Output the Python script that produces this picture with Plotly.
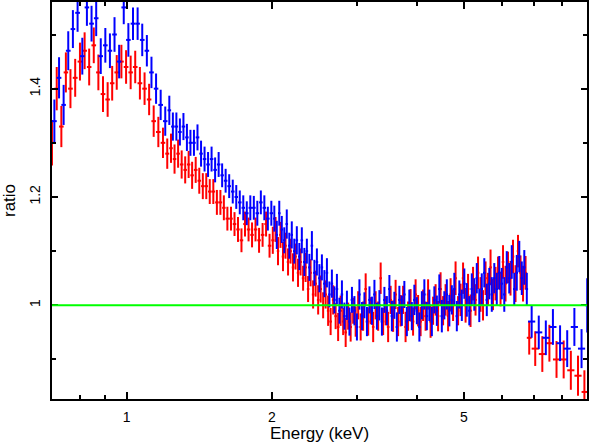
import math

import numpy as np
import plotly.graph_objects as go

# energy bin edges (keV), group 2 (blue)
BLUE_EDGES = [
    0.700, 0.716, 0.732, 0.748, 0.765, 0.782, 0.800, 0.818, 0.836, 0.855,
    0.874, 0.893, 0.913, 0.933, 0.954, 0.975, 0.997, 1.019, 1.042, 1.065,
    1.089, 1.113, 1.138, 1.163, 1.189, 1.215, 1.236, 1.257, 1.278, 1.300,
    1.322, 1.344, 1.367, 1.390, 1.414, 1.438, 1.462, 1.487, 1.512, 1.538,
    1.564, 1.590, 1.617, 1.645, 1.673, 1.701, 1.730, 1.759, 1.789, 1.819,
    1.850, 1.881, 1.913, 1.945, 1.978, 2.011, 2.035, 2.059, 2.084, 2.109,
    2.134, 2.160, 2.186, 2.212, 2.239, 2.266, 2.293, 2.321, 2.349, 2.377,
    2.406, 2.435, 2.464, 2.494, 2.524, 2.554, 2.585, 2.616, 2.647, 2.679,
    2.711, 2.744, 2.777, 2.810, 2.844, 2.878, 2.913, 2.948, 2.983, 3.019,
    3.055, 3.092, 3.129, 3.167, 3.205, 3.243, 3.282, 3.321, 3.361, 3.401,
    3.442, 3.483, 3.525, 3.567, 3.610, 3.653, 3.697, 3.741, 3.786, 3.831,
    3.877, 3.924, 3.971, 4.019, 4.067, 4.116, 4.165, 4.215, 4.266, 4.317,
    4.369, 4.421, 4.474, 4.528, 4.582, 4.637, 4.693, 4.749, 4.806, 4.864,
    4.922, 4.981, 5.041, 5.101, 5.162, 5.224, 5.287, 5.350, 5.414, 5.479,
    5.545, 5.612, 5.679, 5.747, 5.816, 5.886, 5.957, 6.028, 6.100, 6.173,
    6.247, 6.322, 6.398, 6.475, 6.553, 6.632, 6.712, 6.793, 7.030, 7.270,
    7.520, 7.780, 8.050, 8.330, 8.620, 8.920, 9.100,
]

# energy bin edges (keV), group 1 (red) - staggered against group 2
RED_EDGES = [
    0.692, 0.708, 0.724, 0.740, 0.756, 0.773, 0.791, 0.809, 0.827, 0.845,
    0.864, 0.883, 0.903, 0.923, 0.943, 0.964, 0.986, 1.008, 1.030, 1.053,
    1.077, 1.101, 1.125, 1.150, 1.176, 1.202, 1.225, 1.246, 1.267, 1.289,
    1.311, 1.333, 1.355, 1.378, 1.402, 1.426, 1.450, 1.474, 1.499, 1.525,
    1.551, 1.577, 1.603, 1.631, 1.659, 1.687, 1.715, 1.744, 1.774, 1.804,
    1.834, 1.865, 1.897, 1.929, 1.961, 1.994, 2.023, 2.047, 2.071, 2.096,
    2.121, 2.147, 2.173, 2.199, 2.225, 2.252, 2.279, 2.307, 2.335, 2.363,
    2.391, 2.420, 2.449, 2.479, 2.509, 2.539, 2.569, 2.600, 2.631, 2.663,
    2.695, 2.727, 2.760, 2.793, 2.827, 2.861, 2.895, 2.930, 2.965, 3.001,
    3.037, 3.073, 3.110, 3.148, 3.186, 3.224, 3.262, 3.301, 3.341, 3.381,
    3.421, 3.462, 3.504, 3.546, 3.588, 3.631, 3.675, 3.719, 3.763, 3.808,
    3.854, 3.900, 3.947, 3.995, 4.043, 4.091, 4.140, 4.190, 4.240, 4.291,
    4.343, 4.395, 4.447, 4.501, 4.555, 4.609, 4.665, 4.721, 4.777, 4.835,
    4.893, 4.951, 5.011, 5.071, 5.131, 5.193, 5.255, 5.318, 5.382, 5.446,
    5.512, 5.578, 5.645, 5.713, 5.781, 5.851, 5.921, 5.992, 6.064, 6.136,
    6.210, 6.284, 6.360, 6.436, 6.514, 6.592, 6.672, 6.752, 6.910, 7.150,
    7.395, 7.650, 7.915, 8.190, 8.475, 8.770, 9.010,
]

# data/model ratio, group 1 (red)
RED_RATIO = [
    # 0.7 - 1.2 keV
    1.30, 1.40, 1.33, 1.43, 1.40, 1.42, 1.45, 1.47, 1.44, 1.48,
    1.43, 1.39, 1.38, 1.41, 1.43, 1.45, 1.44, 1.43, 1.44, 1.41,
    1.40, 1.38, 1.34, 1.32, 1.30,
    # 1.2 - 2 keV
    1.28, 1.29, 1.27, 1.28, 1.26, 1.25, 1.26, 1.24, 1.25, 1.23,
    1.22, 1.22, 1.21, 1.21, 1.19, 1.19, 1.18, 1.16, 1.16, 1.15,
    1.14, 1.12, 1.15, 1.14, 1.13, 1.14, 1.12, 1.13, 1.15, 1.11,
    # 2 - 6.8 keV
    1.12, 1.14, 1.10, 1.13, 1.09, 1.11, 1.08, 1.10, 1.07, 1.09,
    1.06, 1.08, 1.05, 1.07, 1.03, 1.06, 1.02, 1.04, 1.01, 1.03,
    1.00, 1.02, 0.99, 0.97, 1.01, 0.98, 0.96, 0.99, 0.97, 0.95,
    0.98, 0.96, 0.99, 0.97, 1.00, 0.96, 0.98, 1.03, 0.97, 0.99,
    0.96, 1.00, 0.98, 1.05, 0.97, 0.99, 0.96, 1.01, 0.98, 1.02,
    0.97, 0.99, 1.01, 0.96, 0.98, 1.00, 0.97, 1.02, 0.99, 0.97,
    1.00, 0.98, 1.02, 0.97, 0.99, 1.01, 0.98, 1.03, 0.99, 1.01,
    0.98, 1.02, 1.00, 1.05, 0.99, 1.01, 1.05, 1.00, 1.03, 0.99,
    1.04, 1.01, 1.06, 1.02, 1.00, 1.05, 1.03, 1.07, 1.02, 1.04,
    1.06, 1.03, 1.08, 1.04, 1.07, 1.05, 1.09, 1.04, 1.10, 1.06,
    1.04, 1.06,
    # 6.8 - 9 keV
    0.94, 0.92, 0.91, 0.93, 0.90, 0.90, 0.88, 0.87, 0.84,
]

RED_ERR = [
    0.042, 0.040, 0.038, 0.037, 0.036, 0.035, 0.035, 0.034, 0.034, 0.033,
    0.033, 0.033, 0.032, 0.032, 0.032, 0.031, 0.031, 0.031, 0.030, 0.030,
    0.030, 0.029, 0.029, 0.028, 0.028,
    0.028, 0.027, 0.027, 0.026, 0.026, 0.025, 0.025, 0.025, 0.024, 0.024,
    0.024, 0.024, 0.023, 0.023, 0.023, 0.023, 0.023, 0.022, 0.022, 0.022,
    0.023, 0.022, 0.023, 0.022, 0.023, 0.022, 0.023, 0.022, 0.023, 0.022,
    0.025, 0.023, 0.026, 0.024, 0.027, 0.024, 0.025, 0.023, 0.026, 0.024,
    0.026, 0.025, 0.023, 0.027, 0.024, 0.025, 0.026, 0.024, 0.027, 0.025,
    0.024, 0.026, 0.028, 0.025, 0.027, 0.024, 0.026, 0.028, 0.025, 0.027,
    0.025, 0.027, 0.024, 0.028, 0.026, 0.025, 0.027, 0.029, 0.026, 0.025,
    0.028, 0.026, 0.027, 0.029, 0.025, 0.027, 0.028, 0.026, 0.029, 0.027,
    0.027, 0.029, 0.026, 0.028, 0.027, 0.030, 0.026, 0.028, 0.029, 0.027,
    0.029, 0.027, 0.028, 0.030, 0.026, 0.029, 0.028, 0.031, 0.027, 0.029,
    0.028, 0.030, 0.029, 0.031, 0.027, 0.030, 0.029, 0.032, 0.028, 0.030,
    0.031, 0.029, 0.030, 0.032, 0.028, 0.031, 0.030, 0.033, 0.029, 0.031,
    0.030, 0.032, 0.031, 0.033, 0.029, 0.032, 0.031, 0.034, 0.030, 0.032,
    0.033, 0.031,
    0.031, 0.032, 0.033, 0.034, 0.034, 0.035, 0.036, 0.037, 0.040,
]

# data/model ratio, group 2 (blue)
BLUE_RATIO = [
    # 0.7 - 1.2 keV
    1.34, 1.42, 1.37, 1.47, 1.51, 1.54, 1.46, 1.55, 1.52, 1.53,
    1.46, 1.48, 1.47, 1.50, 1.45, 1.55, 1.49, 1.52, 1.52, 1.49,
    1.47, 1.43, 1.40, 1.37, 1.34,
    # 1.2 - 2 keV
    1.36, 1.33, 1.33, 1.32, 1.33, 1.31, 1.30, 1.30, 1.31, 1.28,
    1.27, 1.26, 1.27, 1.25, 1.26, 1.24, 1.23, 1.22, 1.21, 1.20,
    1.19, 1.18, 1.17, 1.18, 1.18, 1.17, 1.19, 1.18, 1.16, 1.17,
    # 2 - 6.8 keV
    1.16, 1.13, 1.17, 1.14, 1.12, 1.15, 1.11, 1.13, 1.10, 1.12,
    1.09, 1.12, 1.08, 1.10, 1.07, 1.11, 1.06, 1.08, 1.05, 1.07,
    1.04, 1.06, 1.02, 1.04, 1.01, 1.03, 0.99, 1.02, 0.98, 1.00,
    0.97, 1.01, 0.99, 0.96, 1.02, 0.98, 1.00, 0.97, 1.01, 0.99,
    1.02, 0.98, 1.00, 0.97, 1.01, 0.99, 1.03, 0.98, 1.00, 0.96,
    1.01, 0.99, 1.02, 0.97, 1.00, 0.98, 1.01, 0.99, 0.96, 1.00,
    1.02, 0.98, 1.00, 0.97, 1.01, 0.99, 1.03, 0.98, 1.00, 1.02,
    0.99, 1.01, 1.03, 0.98, 1.02, 1.00, 1.04, 1.01, 0.99, 1.03,
    1.02, 1.05, 1.00, 1.03, 1.06, 1.01, 1.04, 1.02, 1.05, 1.03,
    1.06, 1.04, 1.02, 1.07, 1.05, 1.08, 1.03, 1.06, 1.09, 1.05,
    1.07, 1.03,
    # 6.8 - 9 keV
    0.97, 0.95, 0.94, 0.96, 0.93, 0.92, 0.96, 0.92, 1.00,
]

BLUE_ERR = [
    0.040, 0.038, 0.037, 0.036, 0.035, 0.035, 0.034, 0.034, 0.033, 0.033,
    0.033, 0.032, 0.032, 0.032, 0.031, 0.031, 0.031, 0.030, 0.030, 0.030,
    0.029, 0.029, 0.028, 0.028, 0.027,
    0.027, 0.026, 0.026, 0.025, 0.025, 0.025, 0.024, 0.024, 0.024, 0.024,
    0.023, 0.023, 0.023, 0.023, 0.023, 0.022, 0.022, 0.022, 0.022, 0.022,
    0.022, 0.023, 0.022, 0.023, 0.022, 0.023, 0.022, 0.023, 0.022, 0.023,
    0.024, 0.026, 0.023, 0.025, 0.024, 0.027, 0.024, 0.025, 0.023, 0.026,
    0.025, 0.024, 0.026, 0.023, 0.025, 0.027, 0.024, 0.025, 0.026, 0.024,
    0.025, 0.027, 0.024, 0.026, 0.025, 0.028, 0.024, 0.026, 0.025, 0.027,
    0.026, 0.024, 0.027, 0.025, 0.028, 0.026, 0.024, 0.027, 0.025, 0.026,
    0.027, 0.025, 0.028, 0.026, 0.024, 0.027, 0.026, 0.028, 0.025, 0.027,
    0.026, 0.028, 0.025, 0.027, 0.029, 0.026, 0.028, 0.025, 0.027, 0.026,
    0.028, 0.026, 0.029, 0.027, 0.025, 0.028, 0.027, 0.030, 0.026, 0.028,
    0.029, 0.027, 0.030, 0.028, 0.026, 0.029, 0.028, 0.031, 0.027, 0.029,
    0.030, 0.028, 0.031, 0.029, 0.027, 0.030, 0.029, 0.032, 0.028, 0.030,
    0.031, 0.029, 0.032, 0.030, 0.028, 0.031, 0.030, 0.033, 0.029, 0.031,
    0.032, 0.030,
    0.030, 0.031, 0.032, 0.033, 0.033, 0.034, 0.035, 0.036, 0.050,
]

MODEL_RATIO = 1.0

X_RANGE_KEV = (0.7, 9.0)
Y_RANGE = (0.827, 1.560)
X_TICKS = [1, 2, 5]
X_MINOR = [0.8, 0.9, 3, 4, 6, 7, 8, 9]
Y_TICKS = [1, 1.2, 1.4]
Y_MINOR = [0.9, 1.1, 1.3, 1.5]

FONT = "Liberation Sans, Arial, Helvetica, sans-serif"


def _group_trace(
    edges: list[float], ratio: list[float], err: list[float], color: str
) -> go.Scatter:
    e = np.array(edges)
    lo, hi = e[:-1], e[1:]
    centre = np.sqrt(lo * hi)
    assert len(ratio) == len(centre) == len(err)
    return go.Scatter(
        x=centre,
        y=ratio,
        mode="markers",
        marker=dict(size=1, color="rgba(0,0,0,0)"),
        error_x=dict(
            type="data",
            symmetric=False,
            array=hi - centre,
            arrayminus=centre - lo,
            width=0,
            thickness=2,
            color=color,
        ),
        error_y=dict(type="data", array=err, width=0, thickness=2, color=color),
        hoverinfo="x+y",
        showlegend=False,
    )


fig = go.Figure()
fig.add_trace(_group_trace(RED_EDGES, RED_RATIO, RED_ERR, "#ff0000"))
fig.add_trace(_group_trace(BLUE_EDGES, BLUE_RATIO, BLUE_ERR, "#0000ff"))

fig.add_hline(y=MODEL_RATIO, line_color="#00ff00", line_width=2)

axis_common = dict(
    showline=True,
    linecolor="black",
    linewidth=2,
    mirror="ticks",
    ticks="inside",
    tickcolor="black",
    tickwidth=1.5,
    showgrid=False,
    zeroline=False,
    automargin=False,
    tickfont=dict(family=FONT, size=14, color="black"),
)

fig.update_layout(
    width=590,
    height=443,
    margin=dict(l=52, r=3, t=2, b=44),
    paper_bgcolor="white",
    plot_bgcolor="white",
    font=dict(family=FONT, size=14, color="black"),
    xaxis=dict(
        type="log",
        range=[math.log10(X_RANGE_KEV[0]), math.log10(X_RANGE_KEV[1])],
        tickmode="array",
        tickvals=X_TICKS,
        ticktext=[str(v) for v in X_TICKS],
        ticklen=7,
        ticklabelstandoff=4,
        minor=dict(tickmode="array", tickvals=X_MINOR, ticks="inside",
                   ticklen=4, tickwidth=1.5, tickcolor="black"),
        title=dict(text="Energy (keV)", standoff=2),
        **axis_common,
    ),
    yaxis=dict(
        range=list(Y_RANGE),
        tickmode="array",
        tickvals=Y_TICKS,
        ticktext=[f"{v:g}" for v in Y_TICKS],
        tickangle=-90,
        ticklen=6,
        ticklabelstandoff=4,
        minor=dict(tickmode="array", tickvals=Y_MINOR, ticks="inside",
                   ticklen=4, tickwidth=1.5, tickcolor="black"),
        title=dict(text="ratio", standoff=8),
        **axis_common,
    ),
)

# drop the browser's default page margin so the figure sits at the corner
fig.write_html(
    "out.html",
    config={"displayModeBar": False},
    post_script="document.body.style.margin = '0';",
)
